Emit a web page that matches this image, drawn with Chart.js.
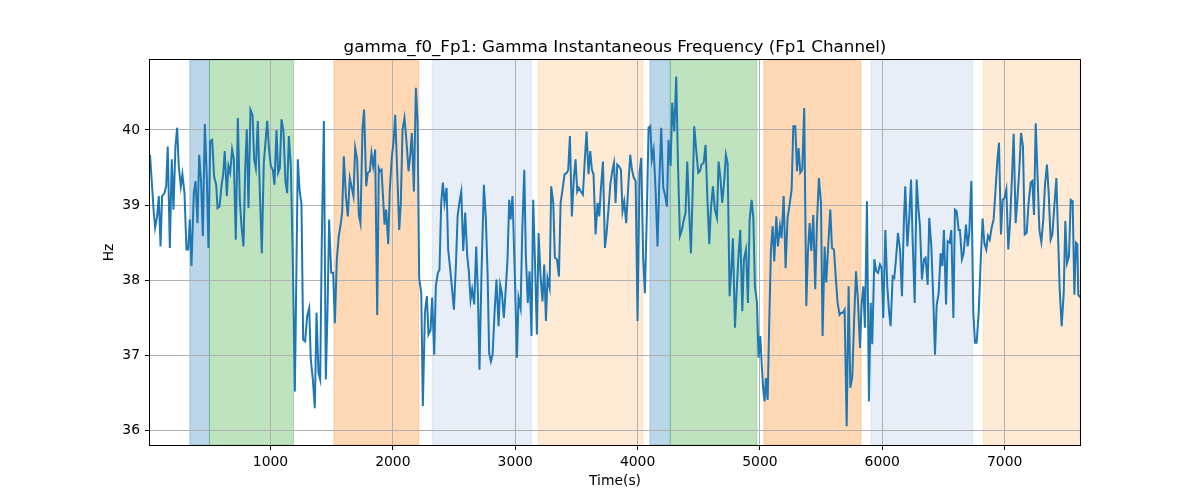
<!DOCTYPE html>
<html>
<head>
<meta charset="utf-8">
<title>gamma_f0_Fp1</title>
<script src="https://cdn.jsdelivr.net/npm/chart.js@4.4.1/dist/chart.umd.min.js"></script>
<style>
  html, body { margin: 0; padding: 0; background: #fff; }
  canvas { display: block; }
</style>
</head>
<body>
<canvas id="grafico" width="1200" height="500"></canvas>
<script>
// Frequenza istantanea gamma, canale Fp1
const times = [
  15, 46, 57, 73, 87, 101, 114, 133, 147, 160, 177, 193, 207, 223, 237, 250, 267, 280, 297, 313,
  327, 340, 354, 373, 387, 403, 417, 433, 447, 463, 479, 493, 507, 523, 539, 556, 567, 583, 599, 613,
  626, 643, 656, 670, 686, 700, 716, 733, 749, 763, 779, 793, 806, 820, 836, 853, 866, 880, 896, 913,
  929, 945, 973, 986, 1002, 1019, 1032, 1049, 1062, 1076, 1090, 1106, 1122, 1136, 1150, 1166, 1182, 1199, 1223, 1237,
  1253, 1267, 1283, 1299, 1316, 1329, 1346, 1362, 1376, 1392, 1406, 1419, 1436, 1452, 1466, 1479, 1496, 1512, 1526, 1542,
  1558, 1575, 1586, 1599, 1616, 1632, 1648, 1662, 1678, 1692, 1708, 1722, 1735, 1752, 1765, 1782, 1795, 1812, 1825, 1839,
  1855, 1872, 1885, 1894, 1907, 1921, 1932, 1945, 1962, 1975, 1992, 2005, 2019, 2035, 2052, 2065, 2079, 2095, 2112, 2128,
  2142, 2155, 2172, 2188, 2202, 2215, 2232, 2245, 2262, 2278, 2291, 2308, 2321, 2338, 2351, 2368, 2381, 2395, 2409, 2422,
  2439, 2452, 2469, 2482, 2499, 2515, 2529, 2545, 2559, 2575, 2591, 2608, 2621, 2635, 2648, 2665, 2681, 2695, 2708, 2725,
  2744, 2760, 2774, 2787, 2801, 2815, 2831, 2847, 2864, 2877, 2891, 2907, 2924, 2937, 2951, 2962, 2978, 2997, 3014, 3027,
  3044, 3057, 3074, 3087, 3103, 3117, 3133, 3147, 3161, 3177, 3191, 3207, 3223, 3237, 3251, 3264, 3281, 3294, 3311, 3324,
  3341, 3357, 3371, 3387, 3403, 3422, 3433, 3447, 3463, 3480, 3493, 3507, 3520, 3537, 3553, 3569, 3583, 3599, 3613, 3627,
  3640, 3657, 3673, 3687, 3700, 3717, 3733, 3747, 3763, 3777, 3793, 3807, 3820, 3834, 3847, 3864, 3877, 3891, 3907, 3924,
  3940, 3954, 3970, 3984, 4000, 4016, 4030, 4046, 4060, 4076, 4090, 4104, 4117, 4131, 4147, 4163, 4177, 4193, 4210, 4226,
  4240, 4253, 4270, 4283, 4300, 4316, 4330, 4346, 4362, 4376, 4392, 4406, 4420, 4436, 4450, 4463, 4480, 4496, 4510, 4523,
  4540, 4556, 4570, 4586, 4599, 4616, 4632, 4649, 4662, 4676, 4692, 4709, 4722, 4736, 4752, 4766, 4779, 4796, 4809, 4823,
  4839, 4856, 4869, 4886, 4902, 4916, 4932, 4946, 4959, 4976, 4989, 5003, 5014, 5027, 5038, 5049, 5063, 5076, 5090, 5104,
  5117, 5134, 5147, 5164, 5177, 5194, 5210, 5226, 5245, 5259, 5273, 5289, 5303, 5316, 5330, 5346, 5362, 5379, 5392, 5406,
  5420, 5436, 5452, 5466, 5482, 5499, 5512, 5529, 5542, 5559, 5575, 5589, 5605, 5621, 5635, 5651, 5665, 5679, 5692, 5709,
  5725, 5739, 5755, 5769, 5785, 5801, 5818, 5831, 5845, 5858, 5875, 5891, 5905, 5918, 5935, 5951, 5965, 5981, 5995, 6008,
  6025, 6041, 6055, 6068, 6085, 6098, 6112, 6128, 6145, 6161, 6177, 6188, 6205, 6221, 6235, 6248, 6265, 6281, 6294, 6308,
  6324, 6341, 6354, 6371, 6384, 6401, 6417, 6431, 6444, 6461, 6477, 6491, 6504, 6521, 6534, 6551, 6564, 6581, 6594, 6608,
  6624, 6635, 6651, 6665, 6684, 6698, 6711, 6728, 6744, 6758, 6771, 6788, 6804, 6820, 6834, 6850, 6864, 6878, 6894, 6910,
  6924, 6940, 6954, 6970, 6984, 7000, 7014, 7030, 7044, 7060, 7074, 7090, 7104, 7120, 7134, 7150, 7164, 7180, 7196, 7213,
  7226, 7240, 7254, 7270, 7284, 7300, 7316, 7330, 7346, 7360, 7376, 7390, 7406, 7423, 7436, 7450, 7466, 7483, 7496, 7510,
  7526, 7540, 7556, 7570, 7583, 7594, 7602, 7616
];

const hz = [
  39.67, 38.90, 38.70, 38.85, 39.12, 38.45, 39.12, 39.16, 39.25, 39.78, 38.43, 39.61, 38.94, 39.78, 40.03, 39.52, 39.25, 39.41, 39.16, 38.41,
  38.41, 38.81, 38.19, 39.16, 39.32, 38.76, 39.67, 39.30, 38.59, 40.08, 39.38, 38.43, 39.85, 39.87, 39.38, 39.27, 38.96, 38.98, 39.25, 39.41,
  39.72, 39.12, 39.52, 39.43, 39.74, 39.61, 38.54, 40.16, 39.07, 38.72, 38.45, 39.47, 40.01, 38.96, 40.27, 40.20, 39.61, 39.49, 40.12, 39.16,
  38.36, 39.56, 40.12, 39.78, 39.52, 39.47, 39.27, 40.00, 39.43, 39.49, 40.14, 39.98, 39.32, 39.16, 39.92, 39.52, 38.28, 36.52, 39.61, 39.21,
  39.01, 37.21, 37.19, 37.52, 37.63, 36.95, 36.68, 36.30, 37.57, 36.77, 36.68, 38.52, 40.12, 36.68, 37.61, 38.81, 38.10, 38.10, 37.43, 38.28,
  38.59, 38.76, 38.92, 39.65, 39.12, 38.85, 39.36, 39.25, 39.12, 39.76, 39.61, 38.87, 38.76, 40.03, 40.27, 39.25, 39.43, 39.45, 39.69, 39.52,
  39.74, 37.54, 39.49, 39.45, 39.47, 39.07, 38.74, 38.94, 38.48, 39.21, 39.65, 39.83, 40.20, 39.47, 38.67, 39.03, 40.00, 40.16, 39.83, 39.45,
  39.67, 39.96, 39.18, 40.56, 40.12, 38.03, 37.83, 36.33, 37.57, 37.79, 37.28, 37.34, 37.77, 37.01, 37.92, 38.10, 38.14, 39.03, 39.30, 39.03,
  39.23, 38.41, 38.14, 37.92, 37.61, 38.19, 38.85, 39.05, 39.18, 38.39, 38.90, 38.32, 38.12, 37.74, 37.88, 37.68, 38.45, 37.83, 36.81, 38.14,
  39.27, 38.81, 38.10, 37.03, 36.92, 37.01, 37.57, 38.01, 37.39, 37.94, 37.83, 37.50, 37.92, 38.28, 39.07, 38.81, 39.12, 38.05, 36.97, 37.77,
  37.63, 38.63, 39.47, 38.32, 37.70, 38.12, 37.26, 39.07, 38.28, 37.28, 38.63, 38.05, 37.72, 38.21, 37.46, 38.03, 37.90, 39.25, 39.03, 38.30,
  38.28, 38.05, 39.03, 39.21, 39.41, 39.43, 39.47, 39.92, 38.85, 39.38, 39.61, 39.18, 39.23, 39.18, 39.14, 39.61, 39.98, 39.41, 39.72, 39.47,
  39.41, 38.61, 39.03, 38.85, 39.21, 39.58, 38.43, 38.63, 38.96, 39.27, 39.45, 39.56, 39.03, 39.54, 39.52, 39.47, 38.92, 39.05, 38.76, 39.25,
  39.67, 39.47, 39.36, 39.32, 37.46, 39.43, 39.63, 38.28, 37.83, 38.90, 40.03, 40.05, 39.61, 39.74, 39.21, 38.45, 39.27, 40.03, 39.23, 39.12,
  38.98, 39.87, 39.52, 40.36, 39.98, 40.71, 39.56, 38.59, 38.67, 38.79, 38.90, 39.58, 38.98, 38.36, 39.16, 40.05, 39.72, 39.43, 39.45, 39.54,
  39.56, 39.80, 39.12, 38.48, 38.94, 39.25, 38.94, 38.83, 39.58, 39.38, 39.03, 39.34, 39.67, 39.56, 37.79, 38.14, 38.56, 37.37, 37.83, 38.28,
  38.67, 37.59, 38.28, 38.41, 37.70, 38.81, 39.07, 38.83, 37.92, 37.70, 36.97, 37.26, 36.90, 36.55, 36.39, 36.70, 36.41, 37.43, 38.41, 38.72,
  38.25, 38.85, 38.45, 38.72, 38.56, 39.12, 38.16, 38.83, 39.03, 39.21, 40.05, 40.05, 39.45, 39.76, 39.43, 39.47, 40.29, 37.66, 38.36, 38.76,
  38.39, 38.87, 37.88, 38.76, 39.36, 39.03, 37.26, 38.45, 37.97, 38.48, 38.94, 38.43, 38.41, 38.01, 37.70, 37.54, 37.57, 37.57, 37.61, 36.06,
  37.92, 36.57, 36.72, 37.43, 38.12, 37.74, 37.10, 37.68, 37.92, 37.37, 39.05, 36.39, 37.70, 37.15, 38.28, 38.12, 38.10, 38.21, 38.16, 37.50,
  38.67, 37.92, 37.59, 37.39, 38.05, 38.03, 38.28, 38.63, 38.41, 37.79, 38.81, 39.25, 38.45, 38.85, 39.34, 38.54, 37.70, 39.34, 38.98, 38.72,
  38.01, 38.28, 38.30, 37.94, 38.83, 38.45, 37.74, 37.01, 37.66, 37.83, 38.36, 38.19, 38.67, 37.68, 38.52, 38.50, 38.67, 37.50, 38.94, 38.92,
  38.67, 38.67, 38.28, 38.36, 38.74, 38.45, 38.63, 39.32, 37.57, 37.17, 37.17, 37.57, 38.23, 38.82, 38.50, 38.41, 38.59, 38.54, 38.70, 38.81,
  39.16, 39.58, 39.83, 38.61, 39.07, 39.10, 39.21, 38.41, 38.76, 39.38, 39.95, 38.76, 39.07, 39.47, 39.96, 39.78, 38.61, 38.63, 39.03, 39.30,
  39.32, 38.87, 40.09, 39.34, 38.67, 38.51, 38.81, 39.27, 39.54, 39.16, 38.54, 38.61, 38.98, 39.36, 38.63, 37.88, 37.39, 37.83, 38.79, 38.23,
  38.32, 39.07, 39.05, 37.81, 38.50, 38.48, 37.81, 37.77
];

// Intervalli evidenziati (inizio, fine, tipo)
const bandStart = [340, 501, 1518, 2321, 3188, 4101, 4267, 5033, 5908, 6826];
const bandEnd   = [501, 1188, 2212, 3134, 4044, 4267, 4975, 5826, 6739, 7616];
const bandKind  = ['blue', 'green', 'orange', 'lightblue', 'lightorange',
                   'blue', 'green', 'orange', 'lightblue', 'lightorange'];

const xTicks = [1000, 2000, 3000, 4000, 5000, 6000, 7000];
const yTicks = [36, 37, 38, 39, 40];
const xMin = 15, xMax = 7616;
const yMin = 35.81, yMax = 40.93;

const titolo = 'gamma_f0_Fp1: Gamma Instantaneous Frequency (Fp1 Channel)';

const coloriBande = {
    blue: 'rgba(31, 119, 180, 0.3)',
    green: 'rgba(44, 160, 44, 0.3)',
    orange: 'rgba(255, 127, 14, 0.3)',
    lightblue: 'rgba(174, 199, 232, 0.3)',
    lightorange: 'rgba(255, 187, 120, 0.3)'
};

Chart.defaults.font.family = "'DejaVu Sans', sans-serif";
Chart.defaults.color = '#000';

// bande sotto la griglia, poi cornice e titolo sopra
const pluginBande = {
    id: 'bande',
    beforeDraw(chart) {
        const { ctx, chartArea, scales } = chart;
        ctx.save();
        for (let i = 0; i < bandStart.length; i++) {
            const x0 = scales.x.getPixelForValue(bandStart[i]);
            const x1 = scales.x.getPixelForValue(bandEnd[i]);
            ctx.fillStyle = coloriBande[bandKind[i]];
            ctx.fillRect(x0, chartArea.top, x1 - x0, chartArea.bottom - chartArea.top);
            ctx.strokeStyle = coloriBande[bandKind[i]];
            ctx.lineWidth = 1;
            ctx.strokeRect(x0, chartArea.top, x1 - x0, chartArea.bottom - chartArea.top);
        }
        ctx.restore();
    },
    afterDraw(chart) {
        const { ctx, chartArea } = chart;
        ctx.save();
        ctx.strokeStyle = '#000';
        ctx.lineWidth = 1;
        ctx.strokeRect(Math.round(chartArea.left) - 0.5, Math.round(chartArea.top) - 0.5,
            Math.round(chartArea.right - chartArea.left) + 1, Math.round(chartArea.bottom - chartArea.top) + 1);
        ctx.fillStyle = '#000';
        ctx.font = "16.7px 'DejaVu Sans'";
        ctx.textAlign = 'center';
        ctx.textBaseline = 'alphabetic';
        ctx.fillText(titolo, (chartArea.left + chartArea.right) / 2, 52);
        ctx.restore();
    }
};

const ctx = document.getElementById('grafico').getContext('2d');
new Chart(ctx, {
    type: 'line',
    data: {
        datasets: [{
            label: 'gamma_f0_Fp1',
            data: times.map((t, i) => ({ x: t, y: hz[i] })),
            borderColor: '#1f77b4',
            borderWidth: 2,
            pointRadius: 0,
            fill: false,
            tension: 0
        }]
    },
    options: {
        responsive: false,
        animation: false,
        layout: { padding: { top: 60, right: 120, left: 0, bottom: 0 } },
        plugins: {
            legend: { display: false },
            tooltip: { enabled: false }
        },
        scales: {
            x: {
                type: 'linear',
                min: xMin,
                max: xMax,
                afterBuildTicks: s => { s.ticks = xTicks.map(v => ({ value: v })); },
                afterFit: s => { s.height = 55; },
                border: { display: false },
                grid: { color: '#b0b0b0', lineWidth: 1, tickColor: '#000', tickLength: 5 },
                ticks: {
                    color: '#000', font: { size: 13.9 }, padding: 4,
                    maxRotation: 0, autoSkip: false,
                    callback: v => String(v)
                },
                title: { display: true, text: 'Time(s)', color: '#000', font: { size: 13.9 }, padding: { top: 0, bottom: 10 } }
            },
            y: {
                type: 'linear',
                min: yMin,
                max: yMax,
                afterBuildTicks: s => { s.ticks = yTicks.map(v => ({ value: v })); },
                afterFit: s => { s.width = 150; },
                border: { display: false },
                grid: { color: '#b0b0b0', lineWidth: 1, tickColor: '#000', tickLength: 5 },
                ticks: {
                    color: '#000', font: { size: 13.9 }, padding: 5,
                    callback: v => String(v)
                },
                title: { display: true, text: 'Hz', color: '#000', font: { size: 13.9 }, padding: { top: 101, bottom: 0 } }
            }
        }
    },
    plugins: [pluginBande]
});
</script>
</body>
</html>
